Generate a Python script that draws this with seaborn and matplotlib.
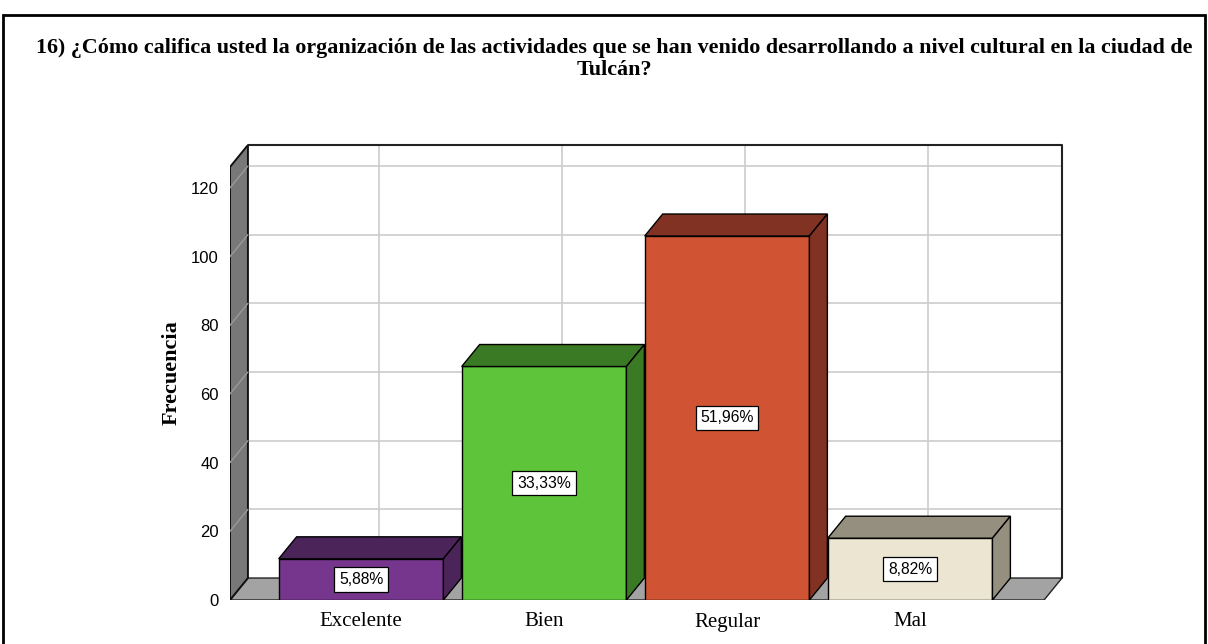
import matplotlib
matplotlib.use("Agg")
import matplotlib.pyplot as plt
from matplotlib.patches import Polygon, Rectangle
import seaborn as sns

categories = ["Excelente", "Bien", "Regular", "Mal"]
counts = [12, 68, 106, 18]
pct_labels = ["5,88%", "33,33%", "51,96%", "8,82%"]
y_ticks = [0, 20, 40, 60, 80, 100, 120]

front_colors = ["#77368d", "#5ec43a", "#d05434", "#ebe5d1"]
shade_colors = ["#4b2459", "#3b7a24", "#823222", "#958f80"]

title_lines = [
    "16) ¿Cómo califica usted la organización de las actividades que se han "
    "venido desarrollando a nivel cultural en la ciudad de",
    "Tulcán?",
]

W, H = 1208, 644
DX, DY = 0.098, 6.4       # depth offset of the 3D look, in data units
BAR_W = 0.9
XMIN, XMAX = -0.716, 3.83
YMAX = 132.5

sns.set_style("white")
plt.rcParams["font.family"] = ["Liberation Serif", "DejaVu Serif"]
for key in ("text.color", "axes.labelcolor", "xtick.color", "ytick.color"):
    plt.rcParams[key] = "black"

fig = plt.figure(figsize=(W / 100, H / 100), dpi=100)
ax = fig.add_axes([230 / W, 44 / H, 832 / W, 455 / H])

sns.barplot(x=categories, y=counts, hue=categories, palette=front_colors,
            saturation=1, width=BAR_W, edgecolor="black", linewidth=1.0,
            legend=False, ax=ax, zorder=5)
ax.set_xlim(XMIN, XMAX)
ax.set_ylim(0, YMAX)

front_right = XMAX - DX
top_v = YMAX - DY

# floor and left wall
ax.add_patch(Polygon([(XMIN, 0), (front_right, 0), (XMAX, DY), (XMIN + DX, DY)],
                     closed=True, facecolor="#a3a3a3", edgecolor="#222222",
                     linewidth=1.0, zorder=1))
ax.add_patch(Polygon([(XMIN, 0), (XMIN + DX, DY), (XMIN + DX, YMAX), (XMIN, top_v)],
                     closed=True, facecolor="#787878", edgecolor="#111111",
                     linewidth=1.4, zorder=1))

# back wall grid
for v in y_ticks[1:]:
    ax.plot([XMIN + DX, XMAX], [v + DY, v + DY], color="#cccccc", lw=1.2, zorder=0.5)
    ax.plot([XMIN, XMIN + DX], [v, v + DY], color="#9a9a9a", lw=1.0, zorder=2)
for i in range(len(categories)):
    ax.plot([i + DX, i + DX], [DY, YMAX], color="#cccccc", lw=1.2, zorder=0.5)
ax.plot([XMIN + DX, XMAX, XMAX], [YMAX, YMAX, DY], color="#222222", lw=1.5,
        zorder=2, clip_on=False)

# 3D faces and percentage labels
for i, bar in enumerate(ax.patches[:len(categories)]):
    x0 = bar.get_x()
    x1 = x0 + bar.get_width()
    h = bar.get_height()
    ax.add_patch(Polygon([(x0, h), (x1, h), (x1 + DX, h + DY), (x0 + DX, h + DY)],
                         closed=True, facecolor=shade_colors[i], edgecolor="black",
                         linewidth=1.0, zorder=5))
    ax.add_patch(Polygon([(x1, 0), (x1 + DX, DY), (x1 + DX, h + DY), (x1, h)],
                         closed=True, facecolor=shade_colors[i], edgecolor="black",
                         linewidth=1.0, zorder=5))
    ax.text(bar.get_x() + bar.get_width() / 2, h / 2, pct_labels[i],
            ha="center", va="center", fontsize=11.3, family="Liberation Sans",
            zorder=7,
            bbox=dict(boxstyle="square,pad=0.3", facecolor="white",
                      edgecolor="black", linewidth=0.9))

for s in ax.spines.values():
    s.set_visible(False)
ax.set_yticks(y_ticks)
ax.set_yticklabels([str(v) for v in y_ticks], family="Liberation Sans", fontsize=12)
ax.tick_params(axis="y", length=0, pad=8)
ax.tick_params(axis="x", length=0, pad=9, labelsize=15)
ax.set_xlabel("")
ax.set_ylabel("Frecuencia", fontsize=16, fontweight="bold", labelpad=7)

for line, ypx in zip(title_lines, (48, 70)):
    fig.text(614 / W, 1 - ypx / H, line, ha="center", va="center",
             fontsize=15.8, fontweight="bold")

fig.patches.append(Rectangle((3 / W, -0.05), 1202 / W, 1 - 15 / H + 0.05,
                             transform=fig.transFigure, fill=False,
                             edgecolor="black", linewidth=2, figure=fig))

fig.savefig("out.png", dpi=100)
